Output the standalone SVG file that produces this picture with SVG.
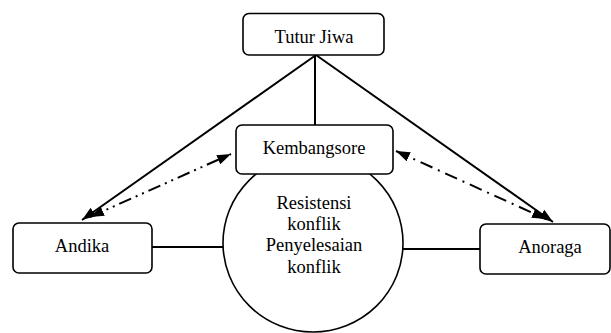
<svg xmlns="http://www.w3.org/2000/svg" width="611" height="333" viewBox="0 0 611 333">
<defs>
<style>
.box{fill:#fff;stroke:#000;stroke-width:1.6}
.t{font-family:'Liberation Serif','Times New Roman',serif;font-size:18.5px;fill:#000;text-anchor:middle}
.solid{stroke:#000;stroke-width:2;fill:none}
.dd{stroke:#000;stroke-width:2;fill:none;stroke-dasharray:13 5 2 5 2 5}
.dt{stroke:#000;stroke-width:2;fill:none;stroke-dasharray:13 6 2 6}
</style>
<marker id="ah" viewBox="0 0 14 10" refX="14" refY="5" markerWidth="14" markerHeight="10" markerUnits="userSpaceOnUse" orient="auto-start-reverse">
<path d="M0,0 L14,5 L0,10 Z" fill="#000"/>
</marker>
</defs>
<g id="connectors">
<line class="solid" x1="316" y1="55" x2="82" y2="220" marker-end="url(#ah)"/>
<line class="solid" x1="316" y1="55" x2="553" y2="222" marker-end="url(#ah)"/>
<line class="solid" x1="315" y1="55" x2="315" y2="125"/>
<line class="dd" x1="90" y1="217" x2="231" y2="154" marker-start="url(#ah)" marker-end="url(#ah)"/>
<line class="dt" x1="396" y1="151" x2="546" y2="219" marker-start="url(#ah)" marker-end="url(#ah)"/>
<line class="solid" x1="152" y1="247" x2="223" y2="247"/>
<line class="solid" x1="403" y1="249" x2="480" y2="249"/>
</g>
<g id="circle">
<ellipse cx="313" cy="243" rx="90" ry="89" fill="#fff" stroke="#000" stroke-width="1.6"/>
<text class="t" x="314" y="209">Resistensi</text>
<text class="t" x="314" y="230">konflik</text>
<text class="t" x="314" y="251">Penyelesaian</text>
<text class="t" x="314" y="273">konflik</text>
</g>
<g id="tuturjiwa">
<rect class="box" x="243" y="13.5" width="141" height="41.5" rx="6"/>
<text class="t" x="314" y="43">Tutur Jiwa</text>
</g>
<g id="kembangsore">
<rect class="box" x="236" y="125" width="157" height="49" rx="6"/>
<text class="t" x="314" y="154">Kembangsore</text>
</g>
<g id="andika">
<rect class="box" x="13" y="223" width="139" height="50" rx="6"/>
<text class="t" x="82" y="252">Andika</text>
</g>
<g id="anoraga">
<rect class="box" x="480" y="224" width="130" height="50" rx="6"/>
<text class="t" x="550" y="253">Anoraga</text>
</g>
</svg>
